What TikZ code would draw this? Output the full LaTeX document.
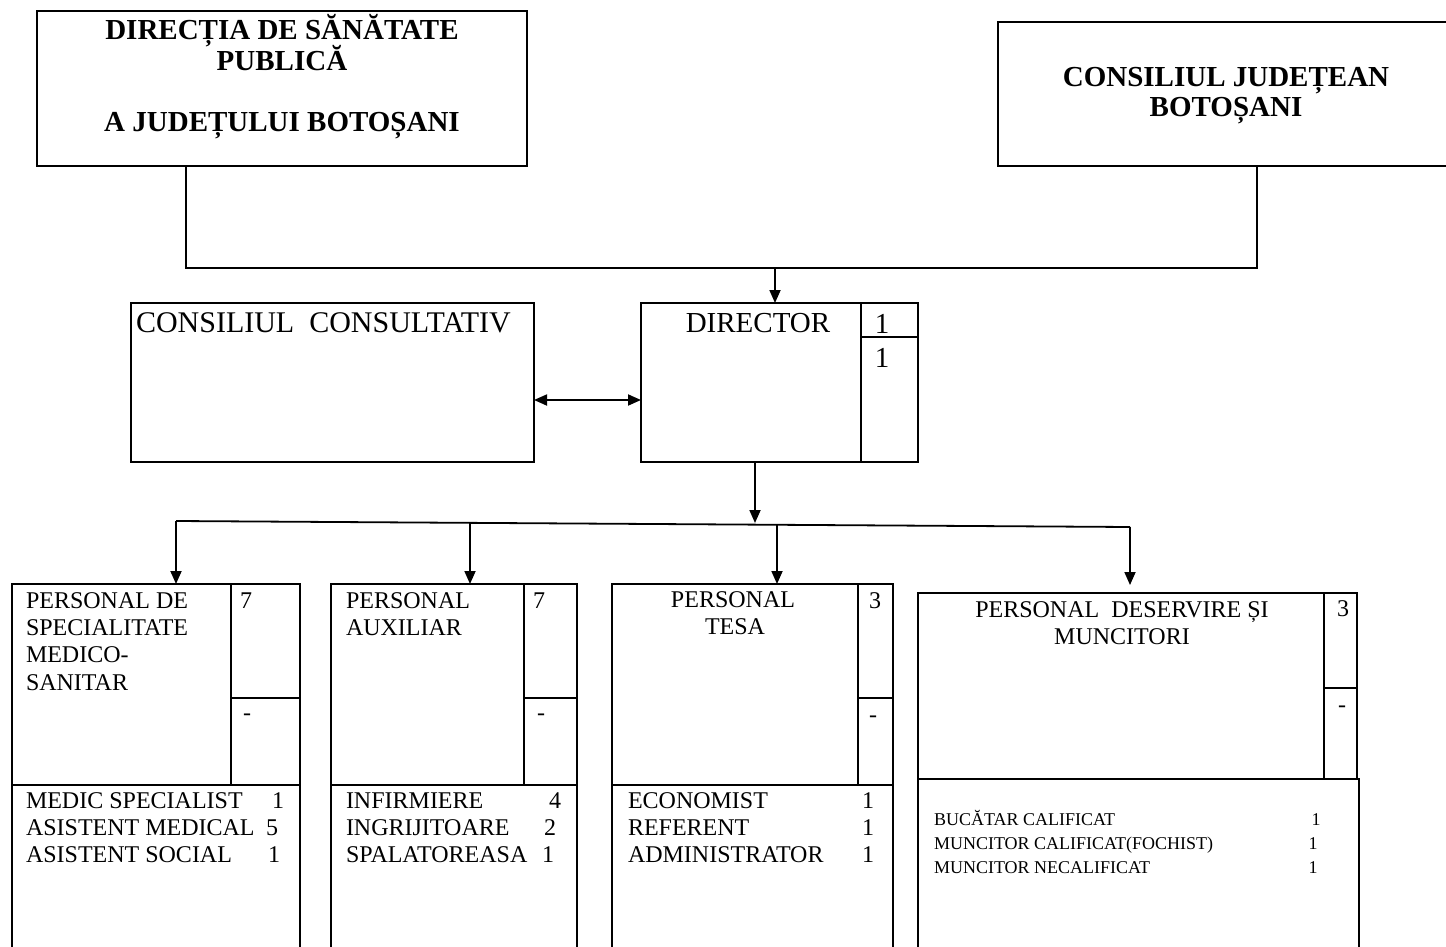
\documentclass[tikz,border=0pt]{standalone}
\usepackage{fontspec}
\setmainfont{Liberation Serif}
\usetikzlibrary{arrows.meta}
\newcommand{\fsHead}{\fontsize{29}{33}\selectfont\bfseries}
\newcommand{\fsMid}{\fontsize{30}{34}\selectfont}
\newcommand{\fsBox}{\fontsize{24}{27}\selectfont}
\newcommand{\fsSmall}{\fontsize{18}{24}\selectfont}
\begin{document}
\begin{tikzpicture}[x=1pt,y=-1pt,
  box/.style={draw, line width=2.2pt, inner sep=0pt, outer sep=0pt, anchor=north west},
  divl/.style={line width=2.2pt},
  conn/.style={line width=1.8pt},
  arr/.style={line width=1.8pt, -{Triangle[length=13pt,width=11pt]}},
  darr/.style={line width=1.8pt, {Triangle[length=13pt,width=11pt]}-{Triangle[length=13pt,width=11pt]}},
  t/.style={inner sep=0pt, outer sep=0pt, anchor=base west},
  tc/.style={inner sep=0pt, outer sep=0pt, anchor=base},
]
\clip (0,0) rectangle (1446,947);
\fill[white] (0,0) rectangle (1446,947);

% top boxes
\node[box, minimum width=490pt, minimum height=155pt] (dsp) at (37,11) {};
\node[box, minimum width=470pt, minimum height=144pt] (cj) at (998,22) {};
\node[tc, font=\fsHead] (dsp1) at (282,40) {DIRECȚIA DE SĂNĂTATE};
\node[tc, font=\fsHead] (dsp2) at (282,71) {PUBLICĂ};
\node[tc, font=\fsHead] (dsp3) at (282,132) {A JUDEȚULUI BOTOȘANI};
\node[tc, font=\fsHead] (cj1) at (1226,87) {CONSILIUL JUDEȚEAN};
\node[tc, font=\fsHead] (cj2) at (1226,117) {BOTOȘANI};

% middle boxes
\node[box, minimum width=403pt, minimum height=159pt] (cc) at (131,303) {};
\node[box, minimum width=277pt, minimum height=159pt] (dir) at (641,303) {};
\draw[divl] (861,303) -- (861,462);
\draw[divl] (861,337) -- (918,337);
\node[t, font=\fsMid] (cct) at (136,332) {CONSILIUL\ \ CONSULTATIV};
\node[tc, font=\fontsize{29}{33}\selectfont] (dirt) at (758,332) {DIRECTOR};
\node[tc, font=\fontsize{29}{33}\selectfont] (dirn1) at (882,333) {1};
\node[tc, font=\fontsize{29}{33}\selectfont] (dirn2) at (882,367) {1};

% bottom boxes
\node[box, minimum width=288pt, minimum height=372pt] (b1) at (12,584) {};
\draw[divl] (231,584) -- (231,785);
\draw[divl] (231,698) -- (300,698);
\draw[divl] (12,785) -- (300,785);

\node[box, minimum width=246pt, minimum height=372pt] (b2) at (331,584) {};
\draw[divl] (524,584) -- (524,785);
\draw[divl] (524,698) -- (577,698);
\draw[divl] (331,785) -- (577,785);

\node[box, minimum width=281pt, minimum height=372pt] (b3) at (612,584) {};
\draw[divl] (858,584) -- (858,785);
\draw[divl] (858,698) -- (893,698);
\draw[divl] (612,785) -- (893,785);

\node[box, minimum width=439pt, minimum height=186pt] (b4) at (918,593) {};
\node[box, minimum width=441pt, minimum height=180pt] (b4l) at (918,779) {};
\draw[divl] (1324,593) -- (1324,779);
\draw[divl] (1324,688) -- (1357,688);

% box 1 texts
\node[t, font=\fsBox] (b1a) at (26,608) {PERSONAL DE};
\node[t, font=\fsBox] (b1b) at (26,635) {SPECIALITATE};
\node[t, font=\fsBox] (b1c) at (26,662) {MEDICO-};
\node[t, font=\fsBox] (b1d) at (26,690) {SANITAR};
\node[tc, font=\fsBox] (b1n) at (246,608) {7};
\node[tc, font=\fsBox] (b1m) at (247,720) {-};
\node[t, font=\fsBox] (b1e) at (26,808) {MEDIC SPECIALIST};
\node[t, font=\fsBox] (b1f) at (26,835) {ASISTENT MEDICAL};
\node[t, font=\fsBox] (b1g) at (26,862) {ASISTENT SOCIAL};
\node[tc, font=\fsBox] (b1en) at (278,808) {1};
\node[tc, font=\fsBox] (b1fn) at (272,835) {5};
\node[tc, font=\fsBox] (b1gn) at (274,862) {1};

% box 2 texts
\node[t, font=\fsBox] (b2a) at (346,608) {PERSONAL};
\node[t, font=\fsBox] (b2b) at (346,635) {AUXILIAR};
\node[tc, font=\fsBox] (b2n) at (539,608) {7};
\node[tc, font=\fsBox] (b2m) at (541,720) {-};
\node[t, font=\fsBox] (b2e) at (346,808) {INFIRMIERE};
\node[t, font=\fsBox] (b2f) at (346,835) {INGRIJITOARE};
\node[t, font=\fsBox] (b2g) at (346,862) {SPALATOREASA};
\node[tc, font=\fsBox] (b2en) at (555,808) {4};
\node[tc, font=\fsBox] (b2fn) at (550,835) {2};
\node[tc, font=\fsBox] (b2gn) at (548,862) {1};

% box 3 texts
\node[tc, font=\fsBox] (b3a) at (733,607) {PERSONAL};
\node[tc, font=\fsBox] (b3b) at (735,634) {TESA};
\node[tc, font=\fsBox] (b3n) at (875,608) {3};
\node[tc, font=\fsBox] (b3m) at (873,722) {-};
\node[t, font=\fsBox] (b3e) at (628,808) {ECONOMIST};
\node[t, font=\fsBox] (b3f) at (628,835) {REFERENT};
\node[t, font=\fsBox] (b3g) at (628,862) {ADMINISTRATOR};
\node[tc, font=\fsBox] (b3en) at (868,808) {1};
\node[tc, font=\fsBox] (b3fn) at (868,835) {1};
\node[tc, font=\fsBox] (b3gn) at (868,862) {1};

% box 4 texts
\node[tc, font=\fsBox] (b4a) at (1122,617) {PERSONAL\ \ DESERVIRE ȘI};
\node[tc, font=\fsBox] (b4b) at (1122,644) {MUNCITORI};
\node[tc, font=\fsBox] (b4n) at (1343,616) {3};
\node[tc, font=\fsBox] (b4m) at (1342,712) {-};
\node[t, font=\fsSmall] (b4e) at (934,825) {BUCĂTAR CALIFICAT};
\node[t, font=\fsSmall] (b4f) at (934,849) {MUNCITOR CALIFICAT(FOCHIST)};
\node[t, font=\fsSmall] (b4g) at (934,873) {MUNCITOR NECALIFICAT};
\node[tc, font=\fsSmall] (b4en) at (1316,825) {1};
\node[tc, font=\fsSmall] (b4fn) at (1313,849) {1};
\node[tc, font=\fsSmall] (b4gn) at (1313,873) {1};

% connectors
\coordinate (jL) at (186,268);
\coordinate (jR) at (1257,268);
\coordinate (jD) at (775,268);
\draw[conn] (dsp.south -| jL) -- (jL) -- (jR) -- (cj.south -| jR);
\draw[arr] (jD) -- (jD |- dir.north);
\coordinate (ya) at (0,400);
\draw[darr] (cc.east |- ya) -- (dir.west |- ya);

\coordinate (xd) at (755,0);
\coordinate (dm) at (755,523);
\draw[arr] (dir.south -| xd) -- (dm);
\coordinate (bl) at (176,521);
\coordinate (br) at (1130,527);
\draw[conn] (bl) -- (br);
\coordinate (a2) at (470,523);
\coordinate (a3) at (777,525);
\coordinate (a4) at (1130,585);
\draw[arr] (bl) -- (bl |- b1.north);
\draw[arr] (a2) -- (a2 |- b2.north);
\draw[arr] (a3) -- (a3 |- b3.north);
\draw[arr] (br) -- (a4);
\end{tikzpicture}
\end{document}
